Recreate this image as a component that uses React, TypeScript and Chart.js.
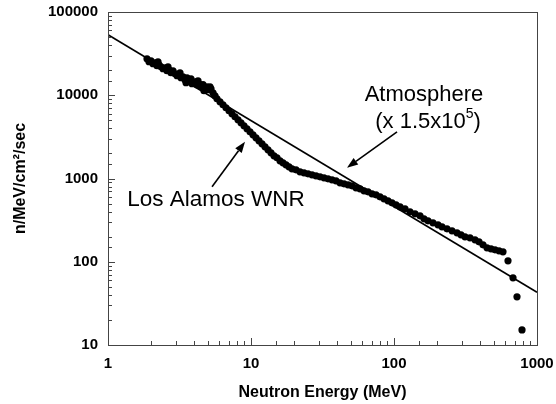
import React, { useEffect, useRef } from 'react';
import { Chart, registerables } from 'chart.js';

Chart.register(...registerables);

// Los Alamos WNR neutron beam spectrum
const wnrEnergy = [
  1.874, 1.935, 1.998, 2.064, 2.131, 2.201, 2.237, 2.273, 2.347, 2.424, 2.503, 2.585, 2.628, 2.67, 2.757,
  2.848, 2.941, 3.037, 3.137, 3.188, 3.239, 3.345, 3.455, 3.512, 3.568, 3.685, 3.805, 3.867, 3.93, 4.058,
  4.191, 4.261, 4.328, 4.47, 4.616, 4.691, 4.767, 4.923, 5.084, 5.168, 5.251, 5.423, 5.6,
  5.783, 6.071, 6.372, 6.687, 7.019, 7.365, 7.73, 8.113, 8.514, 8.934, 9.376, 9.84, 10.33, 10.84, 11.37,
  11.94, 12.53, 13.15, 13.8, 14.48, 15.2, 15.95, 16.74, 17.57, 18.44, 19.35, 20.64,
  22.01, 23.48, 25.04, 26.71, 28.48, 30.38, 32.4, 34.56, 36.85, 39.3, 41.92, 44.7, 47.68, 50.85, 54.24,
  57.84, 61.69, 65.8, 70.18, 74.83, 79.81, 85.13, 90.78, 96.83, 103.3, 110.2, 119.4, 129.4, 140.3, 152.0,
  162.1, 172.9, 187.3, 203.1, 216.6, 234.8, 254.4, 275.8, 294.1, 313.7, 340.0, 368.6, 393.1, 419.2, 447.1,
  476.9, 508.5, 542.4, 578.3, 626.9, 679.6, 724.6, 785.5,
];
const wnrFlux = [
  27460, 25270, 25980, 23910, 24580, 22620, 25270, 23260, 22000, 20820, 21400, 19700, 22000, 20250, 18640,
  19700, 18130, 17160, 17640, 18640, 16230, 16690, 15360, 14140, 16230, 14940, 15790, 13750, 14140, 14530,
  13380, 14940, 13750, 12650, 13380, 11330, 12310, 12650, 11650, 12650, 11970, 10720, 9860,
  9077, 8355, 7689, 7076, 6512, 5993, 5515, 5076, 4671, 4299, 3957, 3641, 3351, 3084, 2838,
  2612, 2404, 2213, 2037, 1874, 1774, 1632, 1544, 1461, 1382, 1308, 1272,
  1204, 1171, 1139, 1108, 1078, 1048, 1019, 991.8, 964.7, 938.5, 888.0, 863.8, 840.2, 817.3, 773.3,
  752.2, 711.7, 692.1, 654.9, 637.0, 602.6, 570.2, 539.5, 510.4, 483.0, 457.0, 432.4, 398.0, 376.5, 356.2,
  327.8, 310.1, 293.4, 277.6, 262.7, 248.6, 235.2, 222.5, 210.5, 199.2, 193.8, 183.3, 173.5, 159.7, 146.9,
  142.9, 139.0, 135.2, 131.5, 102.5, 64.04, 37.86, 15.19,
];

// Atmospheric neutron spectrum (x 1.5x10^5), a straight power law on log-log axes
const atmEnergy = [1, 1000];
const atmFlux = [53300, 43];

// Decade tick labels
const xTickLabels = ['1', '10', '100', '1000'];
const yTickLabels = ['10', '100', '1000', '10000', '100000'];

const FONT = '"Liberation Sans", Arial, Helvetica, sans-serif';

const isDecade = (v: number) => Math.abs(Math.log10(v) - Math.round(Math.log10(v))) < 1e-6;

function drawArrow(ctx: CanvasRenderingContext2D, x0: number, y0: number, x1: number, y1: number) {
  const ang = Math.atan2(y1 - y0, x1 - x0);
  const head = 11;
  const half = 4;
  const bx = x1 - head * Math.cos(ang);
  const by = y1 - head * Math.sin(ang);
  ctx.beginPath();
  ctx.moveTo(x0, y0);
  ctx.lineTo(bx, by);
  ctx.lineWidth = 1.6;
  ctx.strokeStyle = '#000';
  ctx.stroke();
  ctx.beginPath();
  ctx.moveTo(x1, y1);
  ctx.lineTo(bx + half * Math.sin(ang), by - half * Math.cos(ang));
  ctx.lineTo(bx - half * Math.sin(ang), by + half * Math.cos(ang));
  ctx.closePath();
  ctx.fillStyle = '#000';
  ctx.fill();
}

// Plot frame with inward-pointing minor/major tick marks
const framePlugin = {
  id: 'frameTicks',
  afterDraw(chart: any) {
    const { ctx, chartArea: a, scales } = chart;
    ctx.save();
    ctx.strokeStyle = '#444';
    ctx.lineWidth = 1;
    ctx.strokeRect(a.left + 0.5, a.top + 0.5, a.right - a.left, a.bottom - a.top);
    ctx.beginPath();
    for (const t of scales.x.ticks) {
      const px = Math.round(scales.x.getPixelForValue(t.value)) + 0.5;
      const len = isDecade(t.value) ? 7 : 4;
      ctx.moveTo(px, a.bottom);
      ctx.lineTo(px, a.bottom - len);
    }
    for (const t of scales.y.ticks) {
      const py = Math.round(scales.y.getPixelForValue(t.value)) + 0.5;
      const len = isDecade(t.value) ? 7 : 4;
      ctx.moveTo(a.left, py);
      ctx.lineTo(a.left + len, py);
    }
    ctx.stroke();
    ctx.restore();
  },
};

// Curve labels with their pointer arrows, anchored in data coordinates
const notesPlugin = {
  id: 'curveNotes',
  afterDatasetsDraw(chart: any) {
    const { ctx, scales } = chart;
    const X = (v: number) => scales.x.getPixelForValue(v);
    const Y = (v: number) => scales.y.getPixelForValue(v);
    ctx.save();
    ctx.fillStyle = '#000';
    ctx.textBaseline = 'middle';
    ctx.textAlign = 'center';
    ctx.font = `22px ${FONT}`;
    ctx.fillText('Atmosphere', X(162), Y(10140));

    // "(x 1.5x10^5)" with a raised exponent
    const cx = X(173);
    const cy = Y(4800);
    const main = '(x 1.5x10';
    const sup = '5';
    const tail = ')';
    ctx.font = `22px ${FONT}`;
    const wMain = ctx.measureText(main).width;
    const wTail = ctx.measureText(tail).width;
    ctx.font = `14px ${FONT}`;
    const wSup = ctx.measureText(sup).width;
    let sx = cx - (wMain + wSup + wTail) / 2;
    ctx.textAlign = 'left';
    ctx.font = `22px ${FONT}`;
    ctx.fillText(main, sx, cy);
    sx += wMain;
    ctx.font = `14px ${FONT}`;
    ctx.fillText(sup, sx, cy - 8);
    sx += wSup;
    ctx.font = `22px ${FONT}`;
    ctx.fillText(tail, sx, cy);

    ctx.textAlign = 'center';
    ctx.font = `22.5px ${FONT}`;
    ctx.fillText('Los Alamos WNR', X(5.69), Y(555));

    drawArrow(ctx, X(105), Y(3630), X(46.9), Y(1345));
    drawArrow(ctx, X(5.34), Y(795), X(9.08), Y(2761));
    ctx.restore();
  },
};

export default function App() {
  const canvasRef = useRef<HTMLCanvasElement | null>(null);

  useEffect(() => {
    const canvas = canvasRef.current;
    if (!canvas) return;
    Chart.defaults.font.family = FONT;
    Chart.defaults.color = '#000';

    const wnrPoints = wnrEnergy.map((e, i) => ({ x: e, y: wnrFlux[i] }));
    const atmPoints = atmEnergy.map((e, i) => ({ x: e, y: atmFlux[i] }));

    const zeroPadding = (s: any) => {
      s.paddingTop = 0;
      s.paddingBottom = 0;
      s.paddingLeft = 0;
      s.paddingRight = 0;
    };

    const chart = new Chart(canvas, {
      type: 'scatter',
      data: {
        datasets: [
          {
            label: 'Los Alamos WNR',
            data: wnrPoints,
            showLine: false,
            pointRadius: 3.6,
            pointBorderWidth: 0,
            backgroundColor: '#000',
            borderColor: '#000',
          },
          {
            label: 'Atmosphere (x 1.5x10^5)',
            data: atmPoints,
            showLine: true,
            pointRadius: 0,
            borderColor: '#000',
            borderWidth: 1.6,
          },
        ],
      },
      options: {
        animation: false,
        responsive: false,
        events: [],
        layout: { autoPadding: false, padding: { top: 12, right: 19, left: 0, bottom: 0 } },
        plugins: { legend: { display: false }, tooltip: { enabled: false } },
        scales: {
          x: {
            type: 'logarithmic',
            min: 1,
            max: 1000,
            grid: { display: false, drawTicks: false },
            border: { display: false },
            ticks: {
              autoSkip: false,
              maxRotation: 0,
              padding: 10,
              font: { size: 15, weight: 'bold' },
              callback: (v: any) => {
                const i = Math.round(Math.log10(Number(v)));
                return isDecade(Number(v)) ? xTickLabels[i] : '';
              },
            },
            title: {
              display: true,
              text: 'Neutron Energy (MeV)',
              font: { size: 16, weight: 'bold' },
              padding: { top: 0, bottom: 2 },
            },
            afterFit: (s: any) => {
              s.height = 59;
              zeroPadding(s);
            },
          },
          y: {
            type: 'logarithmic',
            min: 10,
            max: 100000,
            grid: { display: false, drawTicks: false },
            border: { display: false },
            ticks: {
              autoSkip: false,
              padding: 10,
              font: { size: 15, weight: 'bold' },
              callback: (v: any) => {
                const i = Math.round(Math.log10(Number(v))) - 1;
                return isDecade(Number(v)) ? yTickLabels[i] : '';
              },
            },
            title: {
              display: true,
              text: 'n/MeV/cm²/sec',
              font: { size: 16, weight: 'bold' },
              padding: { top: 11, bottom: 0 },
            },
            afterFit: (s: any) => {
              s.width = 108;
              zeroPadding(s);
            },
          },
        },
      },
      plugins: [framePlugin, notesPlugin],
    });
    return () => chart.destroy();
  }, []);

  return (
    <div style={{ position: 'absolute', left: 0, top: 0, width: 556, height: 404, background: '#fff' }}>
      <canvas ref={canvasRef} width={556} height={404} style={{ display: 'block' }} />
    </div>
  );
}
